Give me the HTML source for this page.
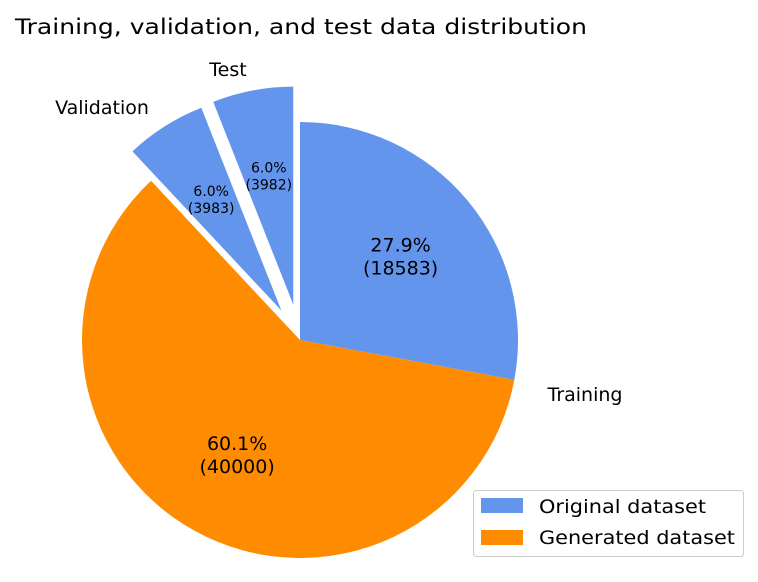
<!DOCTYPE html>
<html><head><meta charset="utf-8"><style>
html,body{margin:0;padding:0;background:#fff;}
svg{display:block;font-family:"DejaVu Sans","Liberation Sans",sans-serif;}
</style></head><body>
<svg id="chart" width="758" height="582" viewBox="0 0 758 582">
<text x="15" y="34" font-size="21" textLength="572" lengthAdjust="spacingAndGlyphs" fill="#000">Training, validation, and test data distribution</text>
<g id="wedges"></g>
<text x="585" y="401" font-size="19" text-anchor="middle">Training</text>
<text x="102" y="114" font-size="19" text-anchor="middle">Validation</text>
<text x="228" y="76" font-size="19" text-anchor="middle">Test</text>
<g>
<rect x="473.5" y="490.5" width="270" height="66" rx="3" fill="#fff" stroke="#ccc"/>
<rect x="481" y="498" width="42" height="15" fill="#6495ED"/>
<text x="539" y="513" font-size="19" textLength="167" lengthAdjust="spacingAndGlyphs">Original dataset</text>
<rect x="481" y="530" width="42" height="15" fill="#FF8C00"/>
<text x="539" y="544" font-size="19" textLength="196" lengthAdjust="spacingAndGlyphs">Generated dataset</text>
</g>
</svg>
<script>
const categories = ["training-original", "training-generated", "validation", "test"];
const values = [18583, 40000, 3983, 3982];
const explode = [0, 0, 0.16, 0.165];
const colors = ["#6495ED", "#FF8C00", "#6495ED", "#6495ED"];
const cx = 300, cy = 340, R = 218;
const NS = "http://www.w3.org/2000/svg";
const g = document.getElementById("wedges");
const total = values.reduce((a, b) => a + b, 0);
const labelPos = [0.6, 0.6, 0.65, 0.65];
const fontSizes = [19, 19, 14, 14];
let start = 90;
values.forEach((v, i) => {
  const sweep = v / total * 360;
  const end = start - sweep;
  const mid = (start + end) / 2 * Math.PI / 180;
  const ox = cx + explode[i] * R * Math.cos(mid), oy = cy - explode[i] * R * Math.sin(mid);
  const a0 = start * Math.PI / 180, a1 = end * Math.PI / 180;
  const x0 = ox + R * Math.cos(a0), y0 = oy - R * Math.sin(a0);
  const x1 = ox + R * Math.cos(a1), y1 = oy - R * Math.sin(a1);
  const large = sweep > 180 ? 1 : 0;
  const p = document.createElementNS(NS, "path");
  p.setAttribute("d", `M${ox},${oy} L${x0},${y0} A${R},${R} 0 ${large} 1 ${x1},${y1} Z`);
  p.setAttribute("fill", colors[i]);
  
  
  g.appendChild(p);
  const lx = ox + labelPos[i] * R * Math.cos(mid) - (ox - cx) * 0.3, ly = oy - labelPos[i] * R * Math.sin(mid) - (oy - cy) * 0.3;
  const fs = fontSizes[i];
  const t = document.createElementNS(NS, "text");
  t.setAttribute("x", lx);
  t.setAttribute("y", ly - fs * 0.25);
  t.setAttribute("text-anchor", "middle");
  t.setAttribute("font-size", fs);
  t.textContent = (v / total * 100).toFixed(1) + "%";
  
  
  g.appendChild(t);
  const t2 = document.createElementNS(NS, "text");
  t2.setAttribute("x", lx);
  t2.setAttribute("y", ly + fs * 0.95);
  t2.setAttribute("text-anchor", "middle");
  t2.setAttribute("font-size", fs);
  t2.textContent = "(" + v + ")";
  
  
  g.appendChild(t2);
  start = end;
});
</script>
</body></html>
